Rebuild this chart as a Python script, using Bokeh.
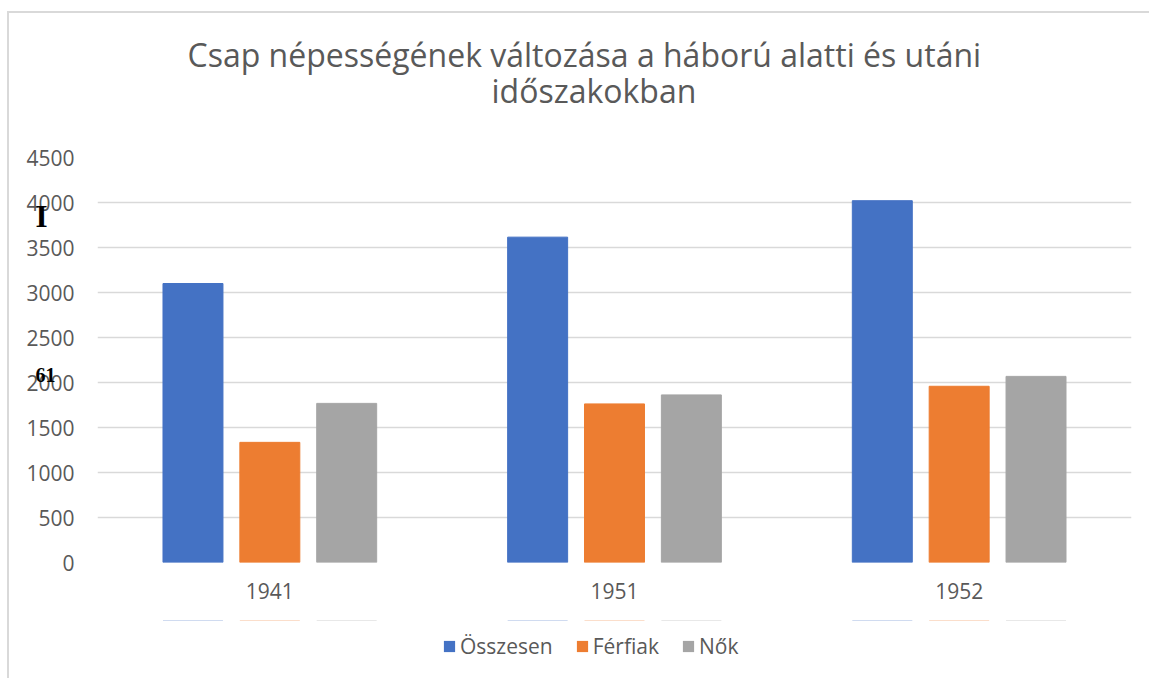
from bokeh.plotting import figure
from bokeh.layouts import column
from bokeh.models import (ColumnDataSource, FactorRange, Range1d, FixedTicker, Legend,
                          LegendItem, Title, LinearAxis, InlineStyleSheet)
from bokeh.transform import dodge
from bokeh.embed import file_html
from bokeh.resources import INLINE

# ---- data ----
years = ["1941", "1951", "1952"]
osszesen = [3100, 3615, 4020]
ferfiak = [1335, 1762, 1958]
nok = [1768, 1862, 2068]
series_names = ["Összesen", "Férfiak", "Nők"]
colors = ["#4472C4", "#ED7D31", "#A5A5A5"]
y_ticks = [0, 500, 1000, 1500, 2000, 2500, 3000, 3500, 4000, 4500]
title_lines = ["Csap népességének változása a háború alatti és utáni", "időszakokban"]
# stray scan marks on the left margin of the original (text and the y level they sit at)
mark_texts = ["61", "I"]
mark_levels = [2083, 3850]

fields = ["osszesen", "ferfiak", "nok"]
src = ColumnDataSource(dict(year=years, osszesen=osszesen, ferfiak=ferfiak, nok=nok))

frame_css = InlineStyleSheet(css="""
:host { position: relative; }
:host::after { content: ""; position: absolute; left: 7px; top: 11px; right: 0; bottom: 0;
  border-left: 2px solid #D9D9D9; border-top: 2px solid #D9D9D9; pointer-events: none; }
""")

W, H_MAIN, H_LEG = 1149, 620, 58
p = figure(width=W, height=H_MAIN, output_backend="svg", toolbar_location=None,
           x_range=FactorRange(factors=years, range_padding=0),
           y_range=Range1d(0, 4500),
           min_border_left=97, min_border_right=18, min_border_top=157, min_border_bottom=58)
p.outline_line_color = None
p.background_fill_color = "white"
p.border_fill_color = "white"
p.title.visible = False

bw = 0.174
off = 0.223
offsets = [-off, 0, off]
for field, d, c in zip(fields, offsets, colors):
    p.vbar(x=dodge("year", d, range=p.x_range), top=field, width=bw, source=src,
           fill_color=c, line_color=c)

# axes
p.yaxis.ticker = FixedTicker(ticks=y_ticks)
p.yaxis.axis_line_color = None
p.yaxis.major_tick_line_color = None
p.yaxis.minor_tick_line_color = None
p.yaxis.major_tick_in = 0
p.yaxis.major_tick_out = 0
p.yaxis.major_label_standoff = 23
p.yaxis.major_label_text_font = "Open Sans"
p.yaxis.major_label_text_font_size = "21px"
p.yaxis.major_label_text_color = "#595959"

p.xaxis.axis_line_color = None
p.xaxis.major_tick_line_color = None
p.xaxis.minor_tick_line_color = None
p.xaxis.major_tick_in = 0
p.xaxis.major_tick_out = 0
p.xaxis.major_label_standoff = 20
p.xaxis.major_label_text_font = "Open Sans"
p.xaxis.major_label_text_font_size = "21px"
p.xaxis.major_label_text_color = "#595959"

p.xgrid.grid_line_color = None
p.ygrid.grid_line_color = "#D9D9D9"
p.ygrid.grid_line_width = 1.5

# extra left axes carrying the stray scan marks
def mark_axis(text, level, size, standoff):
    return LinearAxis(ticker=FixedTicker(ticks=[level]),
                      major_label_overrides={level: text},
                      axis_line_color=None, major_tick_line_color=None,
                      minor_tick_line_color=None, major_tick_in=0, major_tick_out=0,
                      major_label_standoff=standoff,
                      major_label_text_font="Liberation Serif",
                      major_label_text_font_style="bold",
                      major_label_text_font_size=size,
                      major_label_text_color="black")

p.add_layout(mark_axis(mark_texts[0], mark_levels[0], "20px", -32), "left")
p.add_layout(mark_axis(mark_texts[1], mark_levels[1], "31px", -24), "left")

# two-line title (a blank spacer title keeps the gap above the plot area)
p.add_layout(Title(text=" ", text_font_size="10px", standoff=33), "above")
p.add_layout(Title(text=title_lines[1], align="left", offset=394, standoff=0,
                   text_font="Open Sans", text_font_size="32px", text_font_style="normal",
                   text_color="#595959"), "above")
p.add_layout(Title(text=title_lines[0], align="left", offset=90, standoff=-19,
                   text_font="Open Sans", text_font_size="32px", text_font_style="normal",
                   text_color="#595959"), "above")

# legend strip below the chart (its flat bars sit outside its own range, only the keys show)
pl = figure(width=W, height=H_LEG, output_backend="svg", toolbar_location=None,
            x_range=FactorRange(factors=years, range_padding=0), y_range=Range1d(-2, -1),
            min_border_left=0, min_border_right=0, min_border_top=0, min_border_bottom=0)
pl.axis.visible = False
pl.grid.visible = False
pl.outline_line_color = None
pl.title.visible = False
leg_renderers = [pl.vbar(x=dodge("year", d, range=pl.x_range), top=field, bottom=field,
                         width=bw, source=src, fill_color=c, line_color=None)
                 for field, d, c in zip(fields, offsets, colors)]
legend = Legend(items=[LegendItem(label=n, renderers=[r]) for n, r in zip(series_names, leg_renderers)],
                orientation="horizontal", location=(345, 18),
                glyph_width=14, glyph_height=14, label_standoff=4, spacing=22,
                label_text_font="Open Sans", label_text_font_size="21px",
                label_text_color="#595959", border_line_color=None,
                background_fill_alpha=0, padding=0, margin=0)
pl.add_layout(legend)

page = column(p, pl, spacing=0, stylesheets=[frame_css])
open("out.html", "w").write(file_html(page, INLINE))
